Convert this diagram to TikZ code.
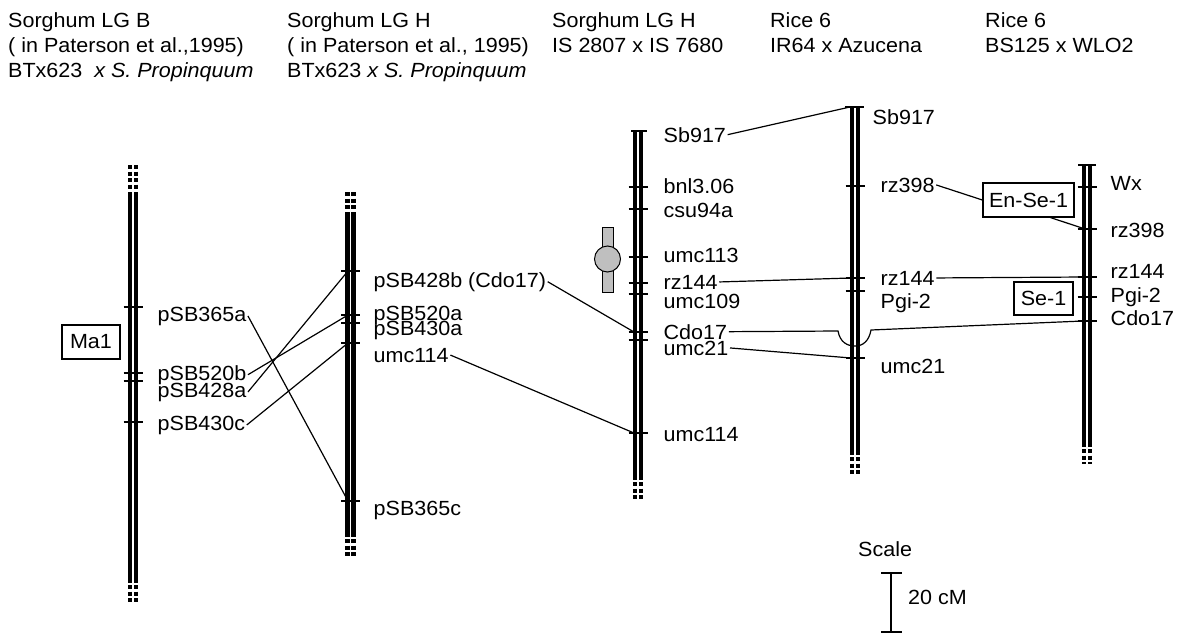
\documentclass[tikz,border=0pt]{standalone}
\usepackage{fontspec}
\setmainfont{Liberation Sans}[FakeStretch=1.05]
\newcommand\mytick[2]{\draw[tickl] (#1-9.5,#2) -- (#1+9.5,#2);}
\newcommand\chrbars[3]{\draw[bar] (#1-2.9,#2) -- (#1-2.9,#3); \draw[bar] (#1+2.9,#2) -- (#1+2.9,#3);}
\newcommand\chrdots[3]{\draw[bar,dash pattern=on 4pt off 2.5pt] (#1-2.9,#2) -- (#1-2.9,#3); \draw[bar,dash pattern=on 4pt off 2.5pt] (#1+2.9,#2) -- (#1+2.9,#3);}
\begin{document}
\begin{tikzpicture}[x=1pt,y=-1pt,
  bar/.style={line width=4.4pt},
  tickl/.style={line width=1.2pt},
  conn/.style={line width=1.2pt},
  lab/.style={anchor=base west, inner xsep=1.5pt, inner ysep=0pt, font=\fontsize{20.5}{24}\selectfont},
  ttl/.style={anchor=base west, inner sep=0pt, font=\fontsize{20.5}{24}\selectfont},
  qbox/.style={draw, line width=1.2pt, inner sep=0pt, font=\fontsize{20.5}{24}\selectfont}]
\useasboundingbox (0,0) rectangle (1186,633);
\fill[white] (0,0) rectangle (1186,633);

% titles
\node[ttl] (t1a) at (8,27) {Sorghum LG B};
\node[ttl] (t1b) at (8,52) {( in Paterson et al.,1995)};
\node[ttl] (t1c) at (8,77) {BTx623\ \ \textit{x S. Propinquum}};
\node[ttl] (t2a) at (287,27) {Sorghum LG H};
\node[ttl] (t2b) at (287,52) {( in Paterson et al., 1995)};
\node[ttl] (t2c) at (287,77) {BTx623 \textit{x S. Propinquum}};
\node[ttl] (t3a) at (552,27) {Sorghum LG H};
\node[ttl] (t3b) at (552,52) {IS 2807 x IS 7680};
\node[ttl] (t4a) at (770,27) {Rice 6};
\node[ttl] (t4b) at (770,52) {IR64 x Azucena};
\node[ttl] (t5a) at (985,27) {Rice 6};
\node[ttl] (t5b) at (985,52) {BS125 x WLO2};

% chromosome 1
\chrbars{133}{192}{583}
\chrdots{133}{165}{190}
\chrdots{133}{585}{604}
\mytick{133}{307}\mytick{133}{373}\mytick{133}{381}\mytick{133}{422}
\node[lab] (l1a) at (156,321) {pSB365a};
\node[lab] (l1b) at (156,380) {pSB520b};
\node[lab] (l1c) at (156,397) {pSB428a};
\node[lab] (l1d) at (156,430) {pSB430c};
\node[qbox, minimum width=58pt, minimum height=34pt] (ma1) at (91,342) {Ma1};

% chromosome 2
\chrbars{350.5}{212}{537}
\chrdots{350.5}{192}{210}
\chrdots{350.5}{539}{557}
\mytick{350.5}{271}\mytick{350.5}{315}\mytick{350.5}{323}\mytick{350.5}{343}\mytick{350.5}{501}
\coordinate (c2a) at (348,271);
\coordinate (c2b) at (348,315);
\coordinate (c2d) at (348,343);
\coordinate (c2e) at (348,501);
\node[lab] (l2a) at (372,287) {pSB428b (Cdo17)};
\node[lab] (l2b) at (372,320) {pSB520a};
\node[lab] (l2c) at (372,335) {pSB430a};
\node[lab] (l2d) at (372,362) {umc114};
\node[lab] (l2e) at (372,515) {pSB365c};

% chromosome 3
\chrbars{638}{131}{480}
\chrdots{638}{482}{499}
\draw[tickl] (631,131) -- (647,131);
\mytick{638}{187}\mytick{638}{209}\mytick{638}{257}\mytick{638}{283}\mytick{638}{294}\mytick{638}{332}\mytick{638}{340}\mytick{638}{433}
\coordinate (c3cdo) at (634,332);
\coordinate (c3umc) at (634,433);
\node[lab] (l3a) at (662,142) {Sb917};
\node[lab] (l3b) at (662,193) {bnl3.06};
\node[lab] (l3c) at (662,217) {csu94a};
\node[lab] (l3d) at (662,262) {umc113};
\node[lab] (l3e) at (662,289) {rz144};
\node[lab] (l3f) at (662,308) {umc109};
\node[lab] (l3g) at (662,339) {Cdo17};
\node[lab] (l3h) at (662,355) {umc21};
\node[lab] (l3i) at (662,441) {umc114};
% centromere
\draw[fill=black!25, line width=1pt] (602,227) rectangle (613,292);
\node[circle, draw, fill=black!25, line width=1pt, minimum size=26pt, inner sep=0pt] (cen) at (607.5,259) {};

% chromosome 4
\chrbars{855}{107}{455}
\chrdots{855}{457}{474}
\draw[tickl] (845,107) -- (864,107);
\mytick{855}{186}\mytick{855}{278}\mytick{855}{291}\mytick{855}{358}
\coordinate (c4top) at (850,107);
\coordinate (c4rz) at (851,278);
\coordinate (c4umc) at (851,358);
\node[lab] (l4a) at (871,124) {Sb917};
\node[lab] (l4b) at (879,192) {rz398};
\node[lab] (l4c) at (879,285) {rz144};
\node[lab] (l4d) at (879,308) {Pgi-2};
\node[lab] (l4e) at (879,373) {umc21};

% chromosome 5
\chrbars{1087}{165}{447}
\chrdots{1087}{449}{464}
\draw[tickl] (1078,165) -- (1096,165);
\mytick{1087}{187}\mytick{1087}{229}\mytick{1087}{277}\mytick{1087}{297}\mytick{1087}{321}
\coordinate (c5rz398) at (1085,229);
\coordinate (c5rz144) at (1083,277);
\coordinate (c5cdo) at (1083,321);
\node[lab] (l5a) at (1109,190) {Wx};
\node[lab] (l5b) at (1109,237) {rz398};
\node[lab] (l5c) at (1109,278) {rz144};
\node[lab] (l5d) at (1109,302) {Pgi-2};
\node[lab] (l5e) at (1109,325) {Cdo17};
\node[qbox, minimum width=91pt, minimum height=34pt] (ense) at (1028.5,200) {En-Se-1};
\node[qbox, minimum width=59pt, minimum height=33pt] (se1) at (1043.5,298.5) {Se-1};

% connectors
\draw[conn] (l1a.east) -- (c2e);
\draw[conn] (l1b.east) -- (c2b);
\draw[conn] (l1c.east) -- (c2a);
\draw[conn] (l1d.east) -- (c2d);
\draw[conn] (l2a.east) -- (c3cdo);
\draw[conn] (l2d.east) -- (c3umc);
\draw[conn] (l3a.east) -- (c4top);
\draw[conn] (c4rz) -- (l3e.east);
\coordinate (arcL) at (838,331);
\coordinate (arcR) at (871,330);
\draw[conn] (l3g.east) -- (arcL) .. controls (840,342) and (847,346) .. (855,346) .. controls (863,346) and (869,341) .. (arcR) -- (c5cdo);
\draw[conn] (l3h.east) -- (c4umc);
\draw[conn] (l4b.east) -- (ense.west);
\draw[conn] (ense.south east) ++(-24,0) coordinate (enseb) -- (c5rz398);
\draw[conn] (l4c.east) -- (c5rz144);

% scale
\node[ttl] (sc) at (858,556) {Scale};
\coordinate (sct) at (891,573);
\coordinate (scb) at (891,632);
\draw[tickl] (sct) -- (scb);
\draw[tickl] (881,573) -- (902,573);
\draw[tickl] (881,632) -- (902,632);
\node[ttl] (sc20) at (908,604) {20 cM};
\end{tikzpicture}
\end{document}
